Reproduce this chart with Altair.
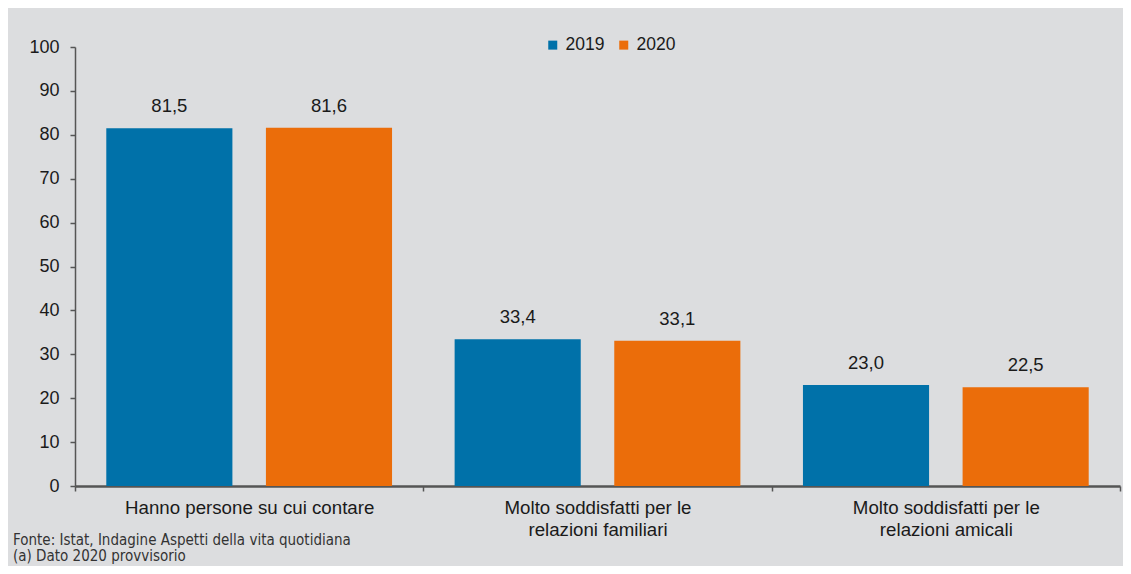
import altair as alt
import pandas as pd

categories = [
    "Hanno persone su cui contare",
    "Molto soddisfatti per le|relazioni familiari",
    "Molto soddisfatti per le|relazioni amicali",
]
years = ["2019", "2020"]
values_2019 = [81.5, 33.4, 23.0]
values_2020 = [81.6, 33.1, 22.5]
colors = ["#0071A9", "#EB6D0A"]
footnote_lines = [
    "Fonte: Istat, Indagine Aspetti della vita quotidiana",
    "(a) Dato 2020 provvisorio",
]

rows = []
for c, v19, v20 in zip(categories, values_2019, values_2020):
    rows.append({"cat": c, "year": "2019", "value": v19})
    rows.append({"cat": c, "year": "2020", "value": v20})
df = pd.DataFrame(rows)

FONT = "Liberation Sans, Arial, Helvetica, sans-serif"
TXT = "#1a1a1a"
AX = "#555555"

x_enc = alt.X(
    "cat:N",
    sort=categories,
    scale=alt.Scale(paddingInner=0, paddingOuter=0),
    axis=alt.Axis(
        title=None,
        labelAngle=0,
        labelExpr="split(datum.label, '|')",
        labelFont=FONT,
        labelFontSize=18.7,
        labelColor=TXT,
        labelPadding=7,
        labelLineHeight=22,
        labelLimit=0,
        tickBand="extent",
        tickSize=5,
        tickColor=AX,
        tickWidth=1.5,
        domainColor=AX,
        domainWidth=2.5,
    ),
)
xoff_enc = alt.XOffset(
    "year:N",
    sort=years,
    scale=alt.Scale(paddingInner=0.21, paddingOuter=0.196),
)
y_enc = alt.Y(
    "value:Q",
    scale=alt.Scale(domain=[0, 100], nice=False),
    axis=alt.Axis(
        title=None,
        values=list(range(0, 101, 10)),
        grid=False,
        labelFont=FONT,
        labelFontSize=18,
        labelColor=TXT,
        labelPadding=11,
        tickSize=5,
        tickColor=AX,
        tickWidth=1.5,
        domainColor=AX,
        domainWidth=1.5,
    ),
)

base = alt.Chart(df)

bars = base.mark_bar().encode(
    x=x_enc,
    xOffset=xoff_enc,
    y=y_enc,
    color=alt.Color(
        "year:N",
        scale=alt.Scale(domain=years, range=colors),
        legend=alt.Legend(
            title=None,
            orient="none",
            legendX=469,
            legendY=-11,
            direction="horizontal",
            symbolType="square",
            symbolSize=81,
            symbolStrokeWidth=0,
            labelFont=FONT,
            labelFontSize=17.5,
            labelColor=TXT,
            labelOffset=4,
            columnPadding=10,
        ),
    ),
)

labels = base.transform_calculate(
    label="replace(format(datum.value, '.1f'), '.', ',')"
).mark_text(
    baseline="alphabetic", dy=-16, font=FONT, fontSize=18.5, color=TXT
).encode(
    x=alt.X("cat:N", sort=categories),
    xOffset=alt.XOffset("year:N", sort=years),
    y="value:Q",
    text="label:N",
)

foot = alt.Chart(pd.DataFrame({"n": [0]})).mark_text(
    text=footnote_lines,
    align="left",
    baseline="alphabetic",
    font="Liberation Sans Narrow, DejaVu Sans Condensed, sans-serif",
    fontSize=15,
    lineHeight=16,
    color="#333333",
).encode(x=alt.value(-62), y=alt.value(498))

chart = alt.layer(bars, labels, foot).properties(
    width=1045,
    height=439,
    background="#DCDDDF",
    padding={"left": 67, "top": 39, "right": 3, "bottom": 80},
    autosize=alt.AutoSizeParams(type="none"),
).configure_view(stroke=None)

chart.save("out.html", embed_options={"renderer": "svg", "actions": False})
